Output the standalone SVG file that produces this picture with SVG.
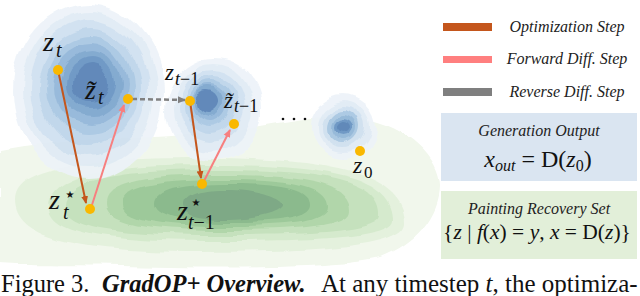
<svg xmlns="http://www.w3.org/2000/svg" width="640" height="296" viewBox="0 0 640 296">
<style>
.mi{font-family:"Liberation Serif",serif;font-style:italic;fill:#111}
.mu{font-family:"Liberation Serif",serif;font-style:normal;fill:#111}
.star{font-family:"DejaVu Sans",sans-serif;font-style:normal;fill:#111}
.leg{font-family:"Liberation Serif",serif;font-style:italic;font-size:16px;fill:#222}
.box{font-family:"Liberation Serif",serif;font-style:italic;fill:#222}
.cap{font-family:"Liberation Serif",serif;font-size:24.5px;fill:#111}
.dot{fill:#F9B800}
.opt{stroke:#C4561C;stroke-width:2;fill:none}
.fwd{stroke:#F77F7F;stroke-width:2;fill:none}
.rev{stroke:#808080;stroke-width:2.5;fill:none;stroke-dasharray:5 3}
</style>
<defs>
<filter id="wob" x="-15%" y="-15%" width="130%" height="130%">
<feTurbulence type="fractalNoise" baseFrequency="0.03" numOctaves="2" seed="4"/>
<feDisplacementMap in="SourceGraphic" scale="12" xChannelSelector="R" yChannelSelector="G"/>
</filter>
<filter id="wob2" x="-5%" y="-15%" width="110%" height="130%">
<feTurbulence type="fractalNoise" baseFrequency="0.025" numOctaves="2" seed="9"/>
<feDisplacementMap in="SourceGraphic" scale="8" xChannelSelector="R" yChannelSelector="G"/>
</filter>
<marker id="ao" markerWidth="8" markerHeight="8" refX="7" refY="4" orient="auto" markerUnits="userSpaceOnUse"><path d="M0,0.5 L8,4 L0,7.5 Z" fill="#C4561C"/></marker>
<marker id="af" markerWidth="8" markerHeight="8" refX="7" refY="4" orient="auto" markerUnits="userSpaceOnUse"><path d="M0,0.5 L8,4 L0,7.5 Z" fill="#F77F7F"/></marker>
<marker id="ar" markerWidth="8" markerHeight="8" refX="7" refY="4" orient="auto" markerUnits="userSpaceOnUse"><path d="M0,0.5 L8,4 L0,7.5 Z" fill="#808080"/></marker>
</defs>
<rect width="640" height="296" fill="#fff"/>

<g id="recovery-density" filter="url(#wob2)">
<path fill="#F1F7EC" d="M0,150 C60,138 150,140 220,132 C280,124 320,112 360,118 C410,126 440,160 440,185 C440,215 415,245 380,258 C330,270 200,268 120,266 C60,265 20,266 0,264 Z"/>
<path fill="#E4F1DD" d="M200,158 C343.5,158 405,177.2 405,222 C405,243 343.5,252 200,252 C69.8,252 14,236.4 14,200 C14,170.6 69.8,158 200,158 Z"/>
<path fill="#D5EACD" d="M215,165 C339.6,165 393,181.5 393,220 C393,234.7 339.6,241 215,241 C98.8,241 49,230.2 49,205 C49,177 98.8,165 215,165 Z"/>
<path fill="#C5E1BD" d="M220,170 C332,170 380,183.5 380,215 C380,229 332,235 220,235 C111.5,235 65,226 65,205 C65,180.5 111.5,170 220,170 Z"/>
<path fill="#B1D6AA" d="M225,175 C311.1,175 348,185.5 348,210 C348,224 311.1,230 225,230 C141.7,230 106,221.9 106,203 C106,183.4 141.7,175 225,175 Z"/>
<path fill="#9DC99A" d="M228,180 C297.3,180 327,188.1 327,207 C327,220.3 297.3,226 228,226 C154.5,226 123,219.1 123,203 C123,186.9 154.5,180 228,180 Z"/>
<path fill="#8BBA8D" d="M232,184 C287.3,184 311,190.3 311,205 C311,216.9 287.3,222 232,222 C178.1,222 155,216.3 155,203 C155,189.7 178.1,184 232,184 Z"/>
<path fill="#7EA986" d="M225,190 C262,190 282,200 282,205 C282,210 262,219 225,219 C197,219 183,214 183,205 C183,196 197,190 225,190 Z"/>
</g>

<g id="gen-density" filter="url(#wob)" opacity="0.92">
<g id="blob-t">
<ellipse cx="88" cy="92" rx="76" ry="88" fill="#EDF3F9"/>
<ellipse cx="89" cy="90" rx="67" ry="78" fill="#E0EBF5"/>
<ellipse cx="89" cy="88" rx="59" ry="68" fill="#CFE0F0"/>
<ellipse cx="90" cy="87" rx="51" ry="58" fill="#BCD4EA"/>
<ellipse cx="90" cy="86" rx="44" ry="49" fill="#A7C6E2"/>
<ellipse cx="90" cy="85" rx="37" ry="41" fill="#90B5D8"/>
<ellipse cx="91" cy="84" rx="30" ry="33" fill="#7AA4CD"/>
<ellipse cx="91" cy="83" rx="24" ry="26" fill="#6692C2"/>
<ellipse cx="91" cy="83" rx="18" ry="20" fill="#5480B5"/>
</g>
<g id="blob-t1">
<ellipse cx="214" cy="110" rx="48" ry="52" fill="#EDF3F9"/>
<ellipse cx="213" cy="108" rx="40" ry="44" fill="#E0EBF5"/>
<ellipse cx="212" cy="106" rx="33" ry="36" fill="#CFE0F0"/>
<ellipse cx="211" cy="105" rx="27" ry="29" fill="#BCD4EA"/>
<ellipse cx="210" cy="104" rx="22" ry="23" fill="#A7C6E2"/>
<ellipse cx="209" cy="104" rx="18" ry="18" fill="#90B5D8"/>
<ellipse cx="208" cy="103" rx="15" ry="15" fill="#7AA4CD"/>
<ellipse cx="207" cy="103" rx="12" ry="11" fill="#5480B5"/>
</g>
<g id="blob-0">
<ellipse cx="343" cy="127" rx="33" ry="32" fill="#EDF3F9"/>
<ellipse cx="344" cy="127" rx="27" ry="26" fill="#E0EBF5"/>
<ellipse cx="344" cy="127" rx="22" ry="21" fill="#CFE0F0"/>
<ellipse cx="344" cy="127" rx="17" ry="17" fill="#A7C6E2"/>
<ellipse cx="345" cy="128" rx="13" ry="13" fill="#90B5D8"/>
<ellipse cx="345" cy="128" rx="10" ry="9" fill="#6692C2"/>
<ellipse cx="345" cy="128" rx="7" ry="6" fill="#5480B5"/>
</g>
</g>

<g id="connectors">
<line class="opt" x1="58" y1="70" x2="86" y2="203" marker-end="url(#ao)"/>
<line class="fwd" x1="91" y1="208" x2="124" y2="105" marker-end="url(#af)"/>
<line class="rev" x1="132" y1="99" x2="185" y2="100" marker-end="url(#ar)"/>
<line class="opt" x1="190" y1="101" x2="201" y2="178" marker-end="url(#ao)"/>
<line class="fwd" x1="203" y1="183" x2="230" y2="130" marker-end="url(#af)"/>
</g>

<g id="node-zt">
<circle class="dot" cx="58" cy="70" r="5"/>
<text class="mi" font-size="28"><tspan x="43" y="51">z</tspan><tspan x="56" y="57" font-size="20">t</tspan></text>
</g>
<g id="node-zt-tilde">
<circle class="dot" cx="128" cy="99" r="5"/>
<text class="mi" font-size="28"><tspan x="85" y="99">z̃</tspan><tspan x="98" y="104" font-size="20">t</tspan></text>
</g>
<g id="node-zt1">
<circle class="dot" cx="190" cy="101" r="5"/>
<text class="mi" font-size="23"><tspan x="165" y="80">z</tspan><tspan x="175" y="85" font-size="18">t</tspan><tspan class="mu" font-size="18">−1</tspan></text>
</g>
<g id="node-zt1-tilde">
<circle class="dot" cx="234" cy="124" r="5"/>
<text class="mi" font-size="23"><tspan x="224" y="108">z̃</tspan><tspan x="234" y="112" font-size="18">t</tspan><tspan class="mu" font-size="18">−1</tspan></text>
</g>
<g id="node-zt-star">
<circle class="dot" cx="90" cy="209" r="5"/>
<text class="mi" font-size="28"><tspan x="49" y="209">z</tspan><tspan class="star" x="70" y="197.5" font-size="10" text-anchor="middle">★</tspan><tspan x="63" y="219" font-size="20">t</tspan></text>
</g>
<g id="node-zt1-star">
<circle class="dot" cx="202" cy="184" r="5"/>
<text class="mi" font-size="28"><tspan x="177" y="220">z</tspan><tspan class="star" x="196" y="205.5" font-size="10" text-anchor="middle">★</tspan><tspan x="188" y="229" font-size="20">t</tspan><tspan class="mu" font-size="20">−1</tspan></text>
</g>
<g id="ellipsis">
<circle cx="283" cy="119" r="1.3" fill="#111"/>
<circle cx="294" cy="119" r="1.3" fill="#111"/>
<circle cx="305" cy="119" r="1.3" fill="#111"/>
</g>
<g id="node-z0">
<circle class="dot" cx="360" cy="151" r="5"/>
<text class="mi" font-size="24"><tspan x="353" y="173">z</tspan><tspan class="mu" x="364" y="178" font-size="17">0</tspan></text>
</g>

<g id="legend">
<rect x="443" y="23" width="49" height="8" fill="#C4561C"/>
<text class="leg" x="567" y="32" text-anchor="middle">Optimization Step</text>
<rect x="443" y="56" width="49" height="7" fill="#FF7F7F"/>
<text class="leg" x="567" y="64" text-anchor="middle">Forward Diff. Step</text>
<rect x="443" y="88" width="49" height="8" fill="#7F7F7F"/>
<text class="leg" x="567" y="97" text-anchor="middle">Reverse Diff. Step</text>
</g>

<g id="box-generation">
<rect x="441" y="113" width="196" height="68" fill="#DAE5F1"/>
<text class="box" x="539" y="136" font-size="16" text-anchor="middle">Generation Output</text>
<text class="mi" x="538" y="167" font-size="24" text-anchor="middle">x<tspan font-size="16" dy="4">out</tspan><tspan class="mu" dy="-4"> = D(</tspan>z<tspan class="mu" font-size="16" dy="4">0</tspan><tspan class="mu" dy="-4">)</tspan></text>
</g>
<g id="box-recovery">
<rect x="441" y="191" width="196" height="68" fill="#E2EFD9"/>
<text class="box" x="539" y="214" font-size="16" text-anchor="middle">Painting Recovery Set</text>
<text class="mu" x="537" y="239" font-size="21.5" text-anchor="middle">{<tspan class="mi">z</tspan> | <tspan class="mi">f</tspan>(<tspan class="mi">x</tspan>) = <tspan class="mi">y</tspan>, <tspan class="mi">x</tspan> = D(<tspan class="mi">z</tspan>)}</text>
</g>

<text class="cap" y="292"><tspan x="1">Figure 3.</tspan><tspan x="102" font-weight="bold" font-style="italic">GradOP+ Overview.</tspan><tspan x="321" font-size="25">At any timestep </tspan><tspan font-size="25" font-style="italic">t</tspan><tspan font-size="25">, the optimiza-</tspan></text>
</svg>
